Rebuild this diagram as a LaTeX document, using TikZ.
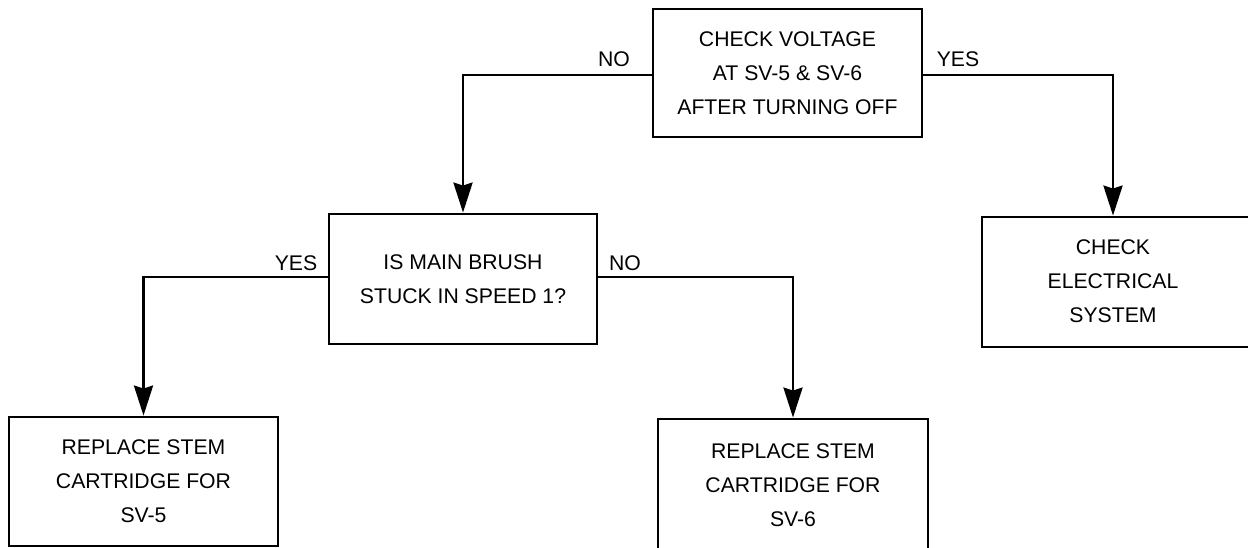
\documentclass[tikz,border=0pt]{standalone}
\usepackage{fontspec}
\setmainfont{Liberation Sans}
\usetikzlibrary{arrows.meta}
\tikzset{
  box/.style={draw=black, line width=2.8pt, rectangle, align=center, inner sep=0pt,
    font=\fontsize{21.2}{34}\selectfont},
  conn/.style={draw=black, line width=2.8pt, -{Stealth[length=30pt,width=19pt,inset=3pt]}},
  lbl/.style={font=\fontsize{21.2}{34}\selectfont, inner sep=0pt}
}
\begin{document}
\begin{tikzpicture}[x=1pt,y=-1pt]
\clip (0,0) rectangle (1248,548);
\node[box, minimum width=269pt, minimum height=128pt] (top) at (787.5,73) {CHECK VOLTAGE\\AT SV-5 \& SV-6\\AFTER TURNING OFF};
\node[box, minimum width=268pt, minimum height=130pt] (mid) at (463,279) {IS MAIN BRUSH\\STUCK IN SPEED 1?};
\node[box, minimum width=280pt, minimum height=130pt] (right) at (1122,282) {\begin{tabular}{@{}c@{\hspace{18pt}}}CHECK\\ELECTRICAL\\SYSTEM\end{tabular}};
\node[box, minimum width=269pt, minimum height=129pt] (bl) at (143.5,481.5) {REPLACE STEM\\CARTRIDGE FOR\\SV-5};
\node[box, minimum width=270pt, minimum height=132pt] (br) at (793,485) {REPLACE STEM\\CARTRIDGE FOR\\SV-6};
\draw[conn] ([yshift=-2pt]top.west) -| (mid.north);
\draw[conn] ([yshift=-2pt]top.east) -| ([xshift=-9pt]right.north);
\draw[conn] ([yshift=2pt]mid.west) -| (bl.north);
\draw[conn] ([yshift=2pt]mid.east) -| (br.north);
\node[lbl] (lno1) at (614,59) {NO};
\node[lbl] (lyes1) at (958,59) {YES};
\node[lbl] (lyes2) at (296,263) {YES};
\node[lbl] (lno2) at (625,263) {NO};
\end{tikzpicture}
\end{document}
